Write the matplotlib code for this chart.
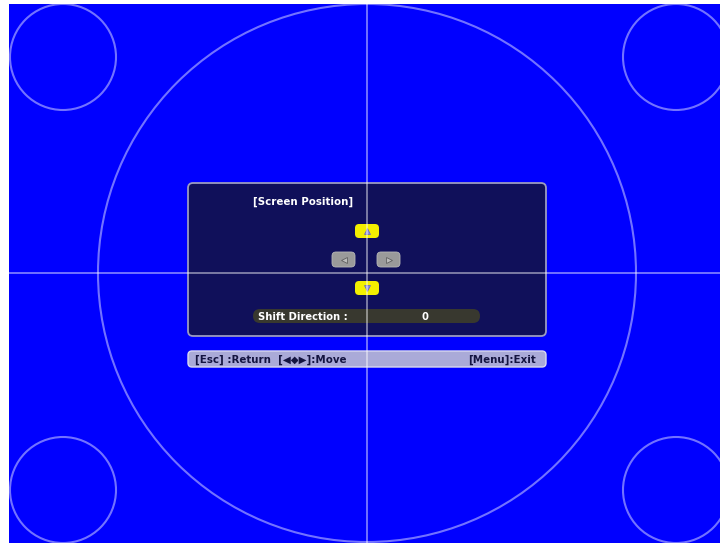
"""
Экран проектора: меню [Screen Position] поверх тестовой сетки.
"""

import matplotlib.pyplot as plt
from matplotlib.patches import Circle, Rectangle, FancyBboxPatch

# Тексты меню
title_text = "[Screen Position]"
field_label = "Shift Direction :"
field_value = "0"
help_left = "[Esc] :Return  [◀◆▶]:Move"
help_right = "[Menu]:Exit"

# Тестовая картинка: центры и радиусы окружностей (px)
circle_x = [367, 63, 676, 63, 676]
circle_y = [273, 57, 57, 490, 490]
circle_r = [269, 53, 53, 53, 53]

W, H = 720, 543
BLUE = '#0000ff'
NAVY = '#10105a'

fig = plt.figure(figsize=(W / 100, H / 100), dpi=100, facecolor='white')
ax = fig.add_axes([0, 0, 1, 1])
ax.set_xlim(0, W)
ax.set_ylim(H, 0)
ax.axis('off')

# Синий фон
bg = Rectangle((9, 4), W - 9, H - 4, facecolor=BLUE, edgecolor='none', zorder=0)
ax.add_patch(bg)

# Окружности
for cx, cy, r in zip(circle_x, circle_y, circle_r):
    c = Circle((cx, cy), r, fill=False, edgecolor='white', alpha=0.45,
               linewidth=1.5, zorder=1)
    ax.add_patch(c)
    c.set_clip_path(bg)

# Окно меню
box = FancyBboxPatch((188, 183), 358, 153, boxstyle='round,pad=0,rounding_size=5',
                     facecolor=NAVY, edgecolor='#9c9cc0', linewidth=1.3, zorder=2)
ax.add_patch(box)
ax.text(253, 202, title_text, color='white', fontsize=7.4, fontweight='bold',
        va='center', ha='left', zorder=3)

# Кнопки вверх/вниз (жёлтые)
for y0, mk in [(224, '^'), (281, 'v')]:
    ax.add_patch(FancyBboxPatch((355, y0), 24, 14, boxstyle='round,pad=0,rounding_size=4',
                                facecolor='#f4f000', edgecolor='none', zorder=3))
    ax.plot(367, y0 + 7, marker=mk, markersize=4.8, color='#9090e0',
            markeredgecolor='#6060c0', markeredgewidth=0.5, zorder=4)

# Кнопки влево/вправо (серые)
for x0, mk in [(332, '<'), (377, '>')]:
    ax.add_patch(FancyBboxPatch((x0, 252), 23, 15, boxstyle='round,pad=0,rounding_size=4',
                                facecolor='#9a9a9a', edgecolor='#b8b8b8', linewidth=0.6,
                                zorder=3))
    ax.plot(x0 + 11.5, 259.5, marker=mk, markersize=4.5, color='#bcbcbc',
            markeredgecolor='#606060', markeredgewidth=0.6, zorder=4)

# Поле Shift Direction
ax.add_patch(FancyBboxPatch((253, 309), 227, 14, boxstyle='round,pad=0,rounding_size=7',
                            facecolor='#38382f', edgecolor='none', zorder=3))
ax.text(258, 316.5, field_label, color='white', fontsize=7.2, fontweight='bold',
        va='center', ha='left', zorder=4)
ax.text(425, 316.5, field_value, color='white', fontsize=7.2, fontweight='bold',
        va='center', ha='center', zorder=4)

# Нижняя строка подсказки
ax.add_patch(FancyBboxPatch((188, 351), 358, 16, boxstyle='round,pad=0,rounding_size=4',
                            facecolor='#aaaad8', edgecolor='#d8d8f0', linewidth=1.0,
                            zorder=2))
ax.text(195, 359.5, help_left, color='#141440', fontsize=7.4, fontweight='bold',
        va='center', ha='left', zorder=3)
ax.text(536, 359.5, help_right, color='#141440', fontsize=7.4, fontweight='bold',
        va='center', ha='right', zorder=3)

# Перекрестие поверх всего
ax.plot([367, 367], [4, H], color='white', alpha=0.45, linewidth=1.4, zorder=6)
ax.plot([9, W], [273, 273], color='white', alpha=0.45, linewidth=1.4, zorder=6)

fig.savefig('out.png', dpi=100, facecolor='white')
